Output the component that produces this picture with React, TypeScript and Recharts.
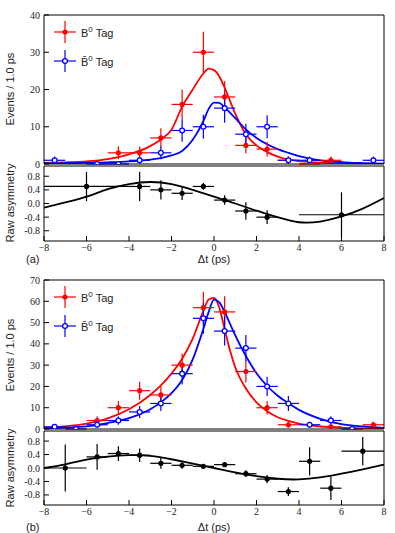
import React from 'react';
import {
  ComposedChart,
  Scatter,
  Line,
  XAxis,
  YAxis,
  ErrorBar,
} from 'recharts';

// ---- panel (a) : event counts per 1 ps bin ----
const A_RED_X = [-4.5, -3.5, -2.5, -1.5, -0.5, 0.5, 1.5, 2.5, 3.5, 4.5, 5.5];
const A_RED_N = [3, 3, 7, 16, 30, 18, 5, 4, 1, 0, 1];
const A_RED_E = [1.7, 1.7, 2.6, 4, 5.5, 4.2, 2.2, 2, 1, 0, 1];
const A_BLUE_X = [-7.5, -5.5, -4.5, -3.5, -2.5, -1.5, -0.5, 0.5, 1.5, 2.5, 3.5, 4.5, 7.5];
const A_BLUE_N = [1, 0, 0, 1, 3, 9, 10, 15, 8, 10, 1, 1, 1];
const A_BLUE_E = [1, 0, 0, 1, 1.7, 3, 3.2, 3.9, 2.8, 3.1, 1, 1, 1];

// fit curves
const FIT_X = [-8, -7, -6, -5, -4, -3, -2.5, -2, -1.5, -1, -0.5, -0.25, 0, 0.25, 0.5, 0.75, 1, 1.5, 2, 2.5, 3, 3.5, 4, 5, 6, 7, 8];
const A_RED_FIT = [0.3, 0.45, 0.7, 1.3, 2.6, 4.8, 6.6, 9.2, 15.4, 20, 24.3, 25.6, 25.2, 23.5, 20.5, 17, 13.5, 8, 5, 3.2, 2, 1.2, 0.8, 0.35, 0.15, 0.06, 0.02];
const A_BLUE_FIT = [0.15, 0.2, 0.3, 0.45, 0.7, 1.2, 1.6, 2.3, 3.5, 6.5, 11.5, 14.8, 16.5, 16.4, 15.2, 13.8, 12.3, 9.3, 7, 5.3, 4, 3, 2.1, 1, 0.5, 0.25, 0.1];

// asymmetry (a)
const A_ASY_X = [-6, -3.5, -2.5, -1.5, -0.5, 0.5, 1.5, 2.5, 6];
const A_ASY_Y = [0.5, 0.5, 0.4, 0.3, 0.5, 0.1, -0.22, -0.4, -0.33];
const A_ASY_EX = [2, 0.5, 0.5, 0.5, 0.5, 0.5, 0.5, 0.5, 2];
const A_ASY_EY = [0.43, 0.43, 0.28, 0.2, 0.1, 0.14, 0.26, 0.2, 0.66];
const ASY_FIT_X = [-8, -7, -6, -5, -4, -3, -2, -1, 0, 1, 2, 3, 4, 5, 6, 7, 8];
const A_ASY_FIT = [-0.12, 0.03, 0.2, 0.42, 0.57, 0.63, 0.57, 0.4, 0.2, 0.0, -0.21, -0.4, -0.55, -0.53, -0.38, -0.15, 0.16];

// ---- panel (b) ----
const B_RED_X = [-5.5, -4.5, -3.5, -2.5, -1.5, -0.5, 0.5, 1.5, 2.5, 3.5, 5.5, 7.5];
const B_RED_N = [4, 10, 18, 16, 30, 57, 55, 27, 10, 2, 1, 2];
const B_RED_E = [2, 3.2, 4.2, 4, 5.5, 7.5, 7.4, 5.2, 3.2, 1.4, 1, 1.4];
const B_BLUE_X = [-7.5, -6.5, -5.5, -4.5, -3.5, -2.5, -1.5, -0.5, 0.5, 1.5, 2.5, 3.5, 4.5, 5.5, 6.5];
const B_BLUE_N = [1, 0, 2, 4, 8, 12, 26, 52, 46, 38, 20, 12, 2, 4, 0];
const B_BLUE_E = [1, 0, 1.4, 2, 2.8, 3.5, 5.1, 7.2, 6.8, 6.2, 4.5, 3.5, 1.4, 2, 0];
const B_RED_FIT = [0.6, 1.2, 2.5, 5, 9.3, 16, 20.5, 26, 33, 42.5, 55.5, 60.8, 61.6, 57, 47, 37, 29, 19, 12.5, 8.3, 5.5, 3.8, 2.5, 1.2, 0.6, 0.3, 0.15];
const B_BLUE_FIT = [0.3, 0.6, 1.2, 2.8, 5.1, 9.3, 12.5, 16.8, 23, 32.7, 47, 55, 60.8, 59.5, 55, 49.5, 44, 34.3, 26.2, 20.2, 15.6, 12.1, 9, 4.8, 2.3, 1.2, 0.5];

const B_ASY_X = [-7, -5.5, -4.5, -3.5, -2.5, -1.5, -0.5, 0.5, 1.5, 2.5, 3.5, 4.5, 5.5, 7];
const B_ASY_Y = [0, 0.33, 0.43, 0.38, 0.14, 0.08, 0.05, 0.1, -0.17, -0.33, -0.7, 0.2, -0.6, 0.5];
const B_ASY_EX = [1, 0.5, 0.5, 0.5, 0.5, 0.5, 0.5, 0.5, 0.5, 0.5, 0.5, 0.5, 0.5, 1];
const B_ASY_EY = [0.7, 0.38, 0.22, 0.2, 0.16, 0.1, 0.06, 0.06, 0.1, 0.12, 0.13, 0.42, 0.35, 0.42];
const B_ASY_FIT = [0.0, 0.11, 0.25, 0.34, 0.38, 0.36, 0.26, 0.13, 0.0, -0.13, -0.24, -0.32, -0.34, -0.28, -0.17, -0.04, 0.1];

// ticks
const X_MAJOR = [-8, -6, -4, -2, 0, 2, 4, 6, 8];
const X_MINOR = [-7, -5, -3, -1, 1, 3, 5, 7];
const A_Y_MAJOR = [0, 10, 20, 30, 40];
const A_Y_MINOR = [5, 15, 25, 35];
const B_Y_MAJOR = [0, 10, 20, 30, 40, 50, 60, 70];
const B_Y_MINOR = [5, 15, 25, 35, 45, 55, 65];
const ASY_MAJOR = [-0.8, -0.4, 0, 0.4, 0.8];
const ASY_MINOR = [-1, -0.9, -0.7, -0.6, -0.5, -0.3, -0.2, -0.1, 0.1, 0.2, 0.3, 0.5, 0.6, 0.7, 0.9, 1];

const RED = '#ff0000';
const BLUE = '#0000ff';
const SERIF = '"Liberation Serif", "Times New Roman", serif';
const SANS = '"Liberation Sans", Arial, Helvetica, sans-serif';
const W = 395;

const pts = (xs: number[], ys: number[], ex: number[] | number, ey: number[]) =>
  xs.map((x, i) => ({ x, y: ys[i], ex: Array.isArray(ex) ? ex[i] : ex, ey: ey[i] }));
const curve = (xs: number[], ys: number[]) => xs.map((x, i) => ({ x, y: ys[i] }));

const tickStyle = { fontFamily: SERIF, fontSize: 10, fill: '#222' };

// axes on all four sides, ticks pointing into the plot
function frameAxes(yDomain: number[], yMajor: number[], yMinor: number[], showX: boolean, yFmt: (v: number) => string) {
  return [
    <XAxis key="xb" type="number" dataKey="x" domain={[-8, 8]} ticks={X_MAJOR} allowDataOverflow
      height={1} tickSize={-5} tickMargin={8} stroke="#000" interval={0}
      tick={showX ? tickStyle : false}
      tickFormatter={(v: number) => String(v).replace('-', '\u2212')} />,
    <XAxis key="xbm" xAxisId="bm" type="number" domain={[-8, 8]} ticks={X_MINOR} allowDataOverflow
      height={1} tickSize={-3} axisLine={false} tick={false} stroke="#000" interval={0} />,
    <XAxis key="xt" xAxisId="t" orientation="top" type="number" domain={[-8, 8]} ticks={X_MAJOR} allowDataOverflow
      height={1} tickSize={-5} tick={false} stroke="#000" interval={0} />,
    <XAxis key="xtm" xAxisId="tm" orientation="top" type="number" domain={[-8, 8]} ticks={X_MINOR} allowDataOverflow
      height={1} tickSize={-3} axisLine={false} tick={false} stroke="#000" interval={0} />,
    <YAxis key="yl" type="number" domain={yDomain} ticks={yMajor} allowDataOverflow width={1}
      tickSize={-5} tickMargin={9} stroke="#000" interval={0} tick={tickStyle} tickFormatter={yFmt} />,
    <YAxis key="ylm" yAxisId="lm" type="number" domain={yDomain} ticks={yMinor} allowDataOverflow width={1}
      tickSize={-2.5} axisLine={false} tick={false} stroke="#000" interval={0} />,
    <YAxis key="yr" yAxisId="r" orientation="right" type="number" domain={yDomain} ticks={yMajor} allowDataOverflow width={1}
      tickSize={-5} tick={false} stroke="#000" interval={0} />,
    <YAxis key="yrm" yAxisId="rm" orientation="right" type="number" domain={yDomain} ticks={yMinor} allowDataOverflow width={1}
      tickSize={-2.5} axisLine={false} tick={false} stroke="#000" interval={0} />,
  ];
}

const redDot = (p: any) => <circle cx={p.cx} cy={p.cy} r={2.6} fill={RED} />;
const blueDot = (p: any) => <circle cx={p.cx} cy={p.cy} r={2.4} fill="#fff" stroke={BLUE} strokeWidth={1.3} />;
const blackDot = (p: any) => <circle cx={p.cx} cy={p.cy} r={2.6} fill="#000" />;

function CountsPanel(props: {
  top: number; height: number; margin: any; yDomain: number[]; yMajor: number[]; yMinor: number[];
  red: any[]; blue: any[]; redFit: any[]; blueFit: any[];
}) {
  return (
    <div style={{ position: 'absolute', left: 0, top: props.top }}>
      <ComposedChart width={W} height={props.height} margin={props.margin}>
        {frameAxes(props.yDomain, props.yMajor, props.yMinor, false, (v: number) => String(v))}
        <Line data={props.redFit} dataKey="y" type="monotone" stroke={RED} strokeWidth={1.8} dot={false} isAnimationActive={false} />
        <Line data={props.blueFit} dataKey="y" type="monotone" stroke={BLUE} strokeWidth={1.8} dot={false} isAnimationActive={false} />
        <Scatter data={props.red} dataKey="y" shape={redDot} isAnimationActive={false}>
          <ErrorBar dataKey="ey" direction="y" width={0} stroke={RED} strokeWidth={1.2} />
          <ErrorBar dataKey="ex" direction="x" width={0} stroke={RED} strokeWidth={1.2} />
        </Scatter>
        <Scatter data={props.blue} dataKey="y" shape={blueDot} isAnimationActive={false}>
          <ErrorBar dataKey="ey" direction="y" width={0} stroke={BLUE} strokeWidth={1.2} />
          <ErrorBar dataKey="ex" direction="x" width={0} stroke={BLUE} strokeWidth={1.2} />
        </Scatter>
      </ComposedChart>
    </div>
  );
}

function AsymPanel(props: { top: number; height: number; margin: any; pts: any[]; fit: any[] }) {
  return (
    <div style={{ position: 'absolute', left: 0, top: props.top }}>
      <ComposedChart width={W} height={props.height} margin={props.margin}>
        {frameAxes([-1.1, 1.1], ASY_MAJOR, ASY_MINOR, true, (v: number) => v.toFixed(1))}
        <Line data={props.fit} dataKey="y" type="natural" stroke="#000" strokeWidth={1.8} dot={false} isAnimationActive={false} />
        <Scatter data={props.pts} dataKey="y" shape={blackDot} isAnimationActive={false}>
          <ErrorBar dataKey="ey" direction="y" width={0} stroke="#000" strokeWidth={1.2} />
          <ErrorBar dataKey="ex" direction="x" width={0} stroke="#000" strokeWidth={1.2} />
        </Scatter>
      </ComposedChart>
    </div>
  );
}

function LegendItem({ x, y, color, open, bar }: { x: number; y: number; color: string; open: boolean; bar: boolean }) {
  return (
    <div style={{ position: 'absolute', left: x, top: y - 12, height: 24, display: 'flex', alignItems: 'center' }}>
      <svg width={24} height={24} style={{ display: 'block' }}>
        <line x1={1} y1={12} x2={23} y2={12} stroke={color} strokeWidth={1.2} />
        <line x1={12} y1={1} x2={12} y2={23} stroke={color} strokeWidth={1.2} />
        {open
          ? <circle cx={12} cy={12} r={2.4} fill="#fff" stroke={color} strokeWidth={1.3} />
          : <circle cx={12} cy={12} r={2.6} fill={color} />}
      </svg>
      <span style={{ fontFamily: SANS, fontSize: 11, color: '#222', marginLeft: 4, whiteSpace: 'nowrap' }}>
        {bar ? 'B\u0304' : 'B'}<sup style={{ fontSize: 8 }}>0</sup> Tag
      </span>
    </div>
  );
}

const vTitle = (text: string, cx: number, cy: number) => (
  <div style={{
    position: 'absolute', left: cx - 60, top: cy - 7, width: 120, textAlign: 'center',
    transform: 'rotate(-90deg)', fontFamily: SANS, fontSize: 11, color: '#222', lineHeight: '14px',
  }}>{text}</div>
);

const hText = (text: string, left: number, cy: number, width: number, align: any) => (
  <div style={{
    position: 'absolute', left, top: cy - 7, width, textAlign: align,
    fontFamily: SANS, fontSize: 11, color: '#222', lineHeight: '14px',
  }}>{text}</div>
);

export default function App() {
  return (
    <div style={{ position: 'absolute', left: 0, top: 0, width: W, height: 533, background: '#fff', overflow: 'hidden' }}>
      <CountsPanel top={0} height={170} margin={{ top: 13, left: 42, right: 9, bottom: 4 }}
        yDomain={[0, 40]} yMajor={A_Y_MAJOR} yMinor={A_Y_MINOR}
        red={pts(A_RED_X, A_RED_N, 0.5, A_RED_E)} blue={pts(A_BLUE_X, A_BLUE_N, 0.5, A_BLUE_E)}
        redFit={curve(FIT_X, A_RED_FIT)} blueFit={curve(FIT_X, A_BLUE_FIT)} />
      <AsymPanel top={160} height={100} margin={{ top: 4, left: 42, right: 9, bottom: 17 }}
        pts={pts(A_ASY_X, A_ASY_Y, A_ASY_EX, A_ASY_EY)} fit={curve(ASY_FIT_X, A_ASY_FIT)} />
      <CountsPanel top={270} height={165} margin={{ top: 8, left: 42, right: 9, bottom: 4 }}
        yDomain={[0, 70]} yMajor={B_Y_MAJOR} yMinor={B_Y_MINOR}
        red={pts(B_RED_X, B_RED_N, 0.5, B_RED_E)} blue={pts(B_BLUE_X, B_BLUE_N, 0.5, B_BLUE_E)}
        redFit={curve(FIT_X, B_RED_FIT)} blueFit={curve(FIT_X, B_BLUE_FIT)} />
      <AsymPanel top={425} height={100} margin={{ top: 4, left: 42, right: 9, bottom: 18 }}
        pts={pts(B_ASY_X, B_ASY_Y, B_ASY_EX, B_ASY_EY)} fit={curve(ASY_FIT_X, B_ASY_FIT)} />

      <LegendItem x={53} y={32} color={RED} open={false} bar={false} />
      <LegendItem x={53} y={61} color={BLUE} open={true} bar={true} />
      <LegendItem x={53} y={297} color={RED} open={false} bar={false} />
      <LegendItem x={53} y={326} color={BLUE} open={true} bar={true} />

      {vTitle('Events / 1.0 ps', 10, 89)}
      {vTitle('Raw asymmetry', 10, 203)}
      {vTitle('Events / 1.0 ps', 10, 355)}
      {vTitle('Raw asymmetry', 10, 468)}

      {hText('\u0394t (ps)', 164, 259, 100, 'center')}
      {hText('(a)', 26, 259, 30, 'left')}
      {hText('\u0394t (ps)', 164, 527, 100, 'center')}
      {hText('(b)', 26, 527, 30, 'left')}
    </div>
  );
}
